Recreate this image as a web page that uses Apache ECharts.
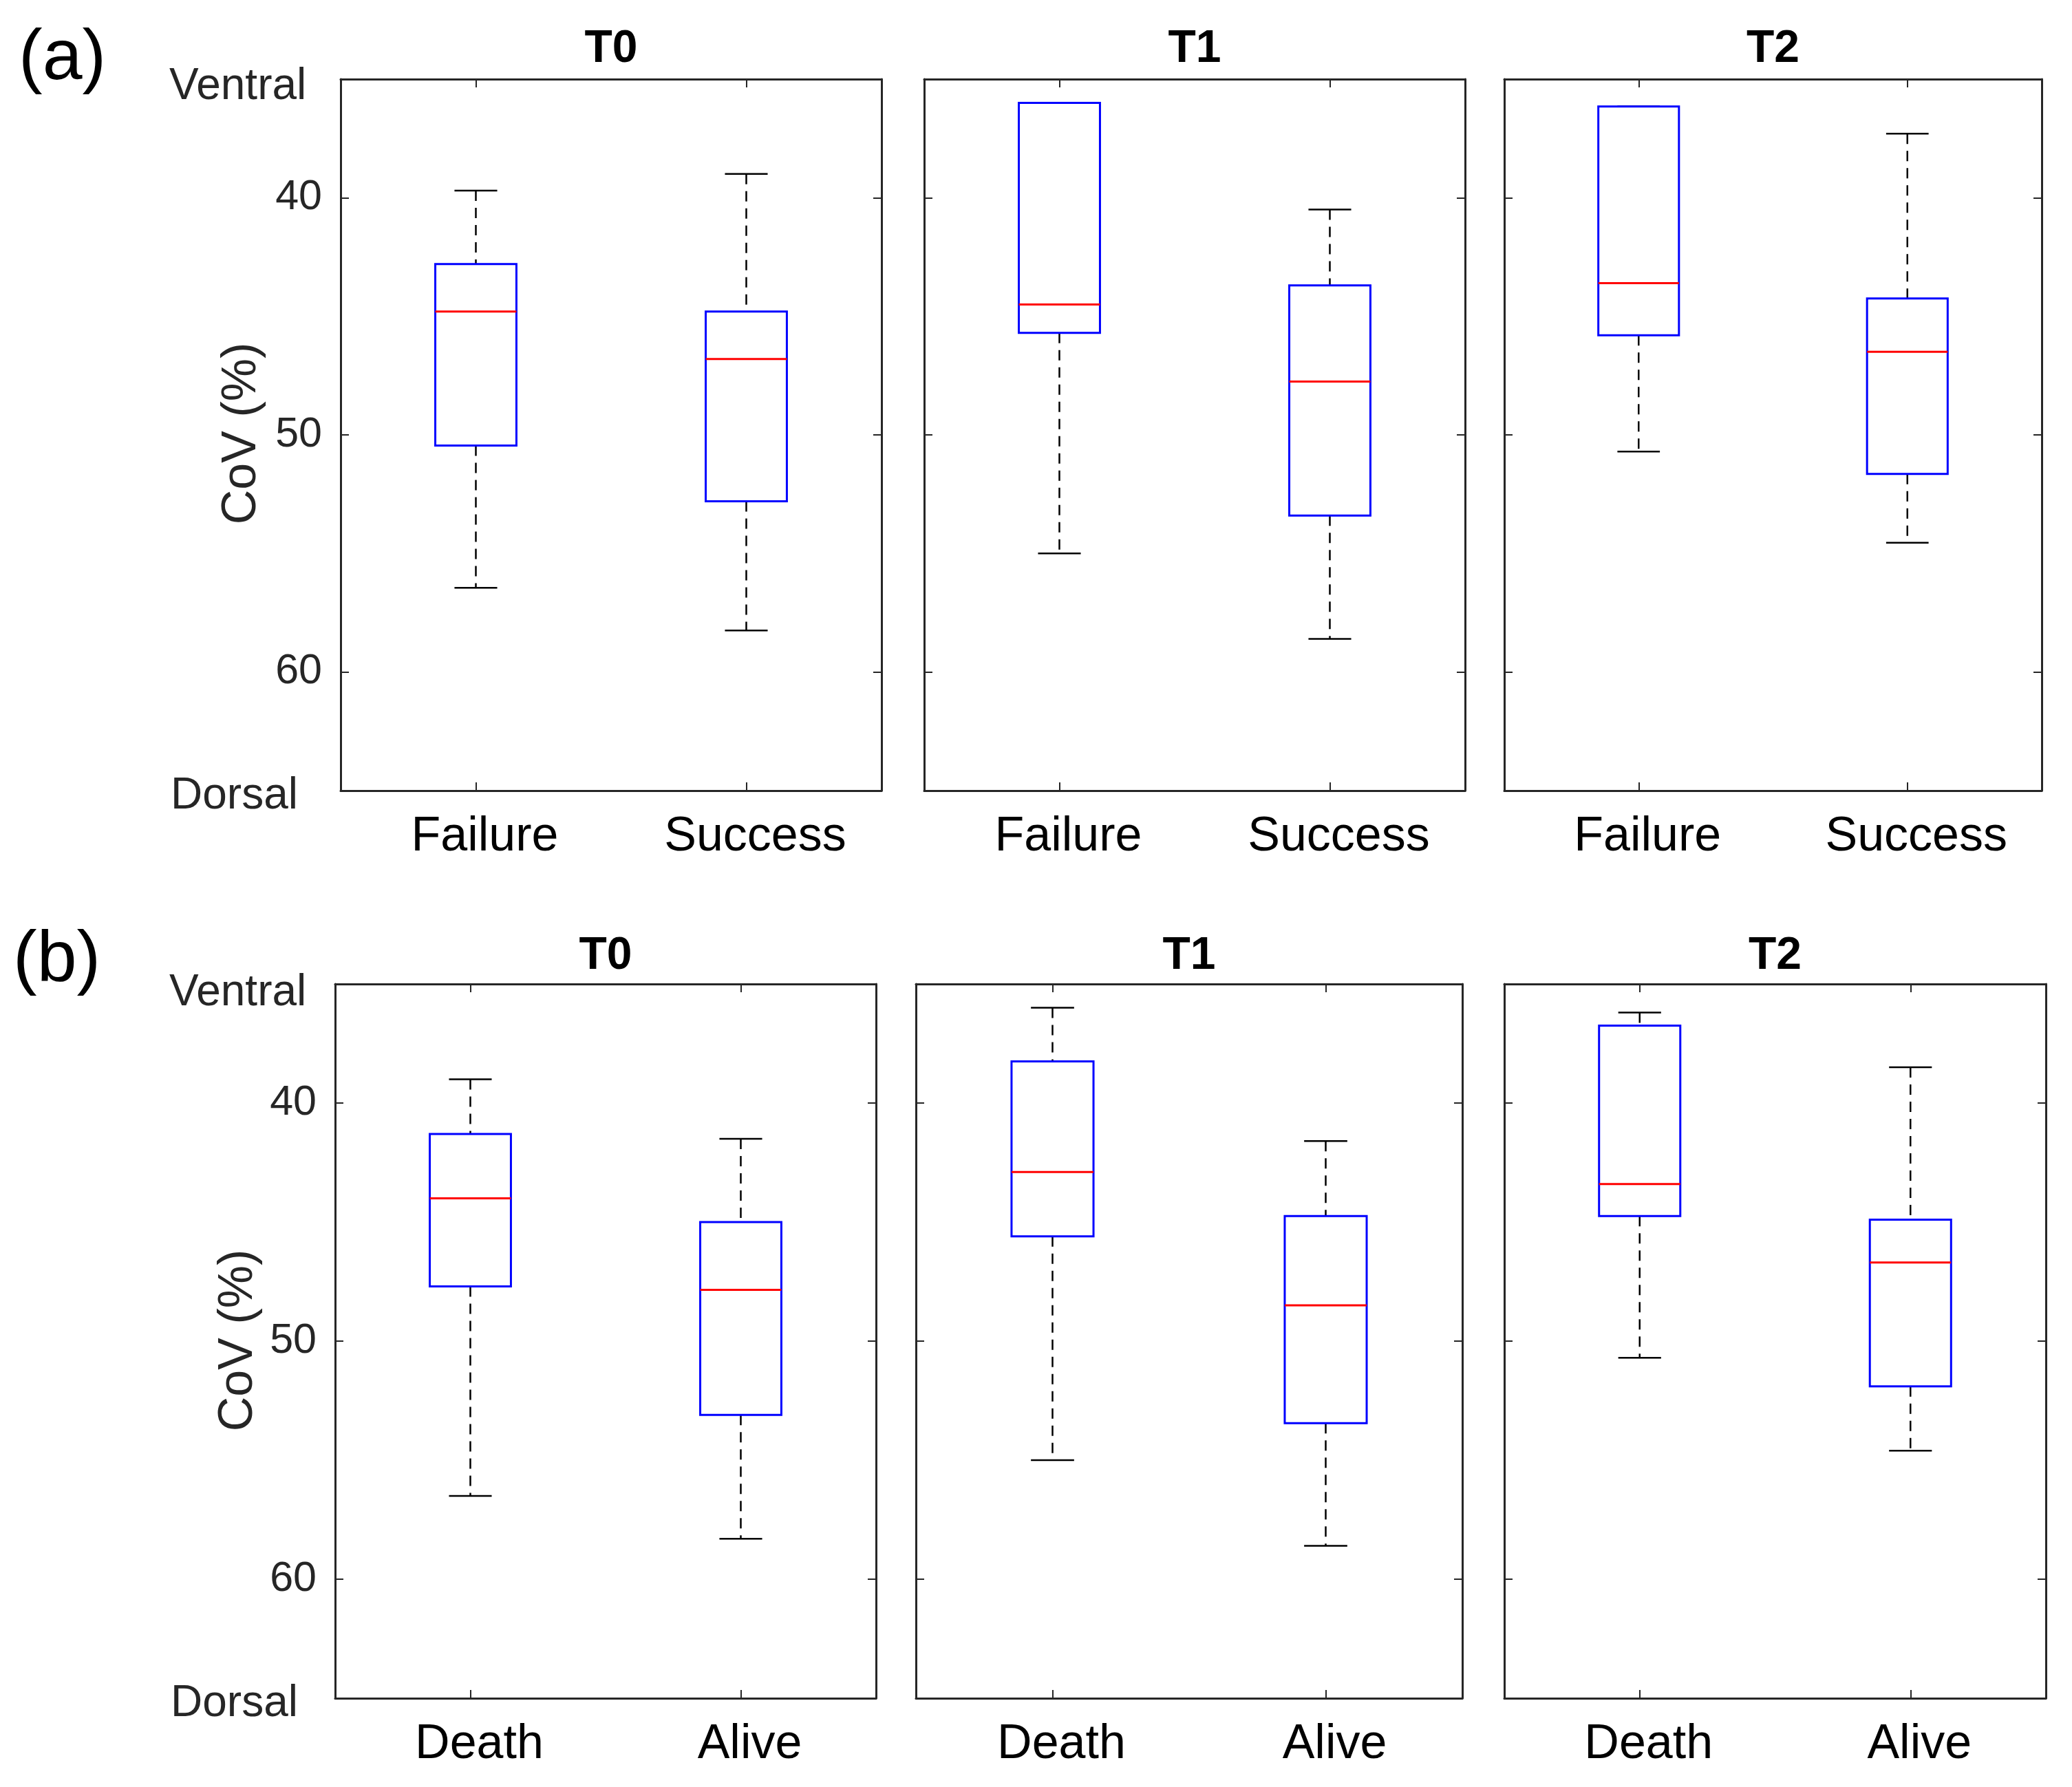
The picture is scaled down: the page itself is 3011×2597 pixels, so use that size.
<!DOCTYPE html>
<html>
<head>
<meta charset="utf-8">
<script src="https://cdn.jsdelivr.net/npm/echarts@6/dist/echarts.min.js"></script>
<style>html,body{margin:0;padding:0;background:#fff;}#c{width:3011px;height:2597px;}</style>
</head>
<body>
<div id="c"></div>
<script>
// ---- data ----
const times = ['T0', 'T1', 'T2'];
const groupsA = ['Failure', 'Success'];
const groupsB = ['Death', 'Alive'];
const yTicks = [40, 50, 60];
const yMin = 35, yMax = 65;
const rowLetters = ['(a)', '(b)'];
const yName = 'CoV (%)';
const topText = 'Ventral';
const bottomText = 'Dorsal';
// each box: [lower whisker, q1, median, q3, upper whisker]
const aT0 = [[39.7, 42.8, 44.8, 50.45, 56.45], [39.0, 44.8, 46.8, 52.8, 58.25]];
const aT1 = [[36.0, 36.0, 44.5, 45.7, 55.0], [40.5, 43.7, 47.75, 53.4, 58.6]];
const aT2 = [[36.15, 36.15, 43.6, 45.8, 50.7], [37.3, 44.25, 46.5, 51.65, 54.55]];
const bT0 = [[39.0, 41.3, 44.0, 47.7, 56.5], [41.5, 45.0, 47.85, 53.1, 58.3]];
const bT1 = [[36.0, 38.25, 42.9, 45.6, 55.0], [41.6, 44.75, 48.5, 53.45, 58.6]];
const bT2 = [[36.2, 36.75, 43.4, 44.75, 50.7], [38.5, 44.9, 46.7, 51.9, 54.6]];

// ---- layout ----
const rows = [
  { top: 115, bottom: 1149, xs: [[495, 1281], [1343, 2129], [2186, 2967]], data: [aT0, aT1, aT2], cats: groupsA,
    titleY: 72, ventralY: 126, dorsalY: 1157, letterY: 86, covY: 630 },
  { top: 1430, bottom: 2468, xs: [[487, 1273], [1331, 2125], [2186, 2973]], data: [bT0, bT1, bT2], cats: groupsB,
    titleY: 1390, ventralY: 1443, dorsalY: 2476, letterY: 1396, covY: 1948 }
];

const FONT = '"Liberation Sans", Arial, Helvetica, sans-serif';
const FRAME = '#262626';

const grids = [], xAxes = [], yAxes = [], series = [], graphics = [];

function renderBox(params, api) {
  const x = api.value(0);
  const lo = api.value(1), q1 = api.value(2), med = api.value(3), q3 = api.value(4), hi = api.value(5);
  const catW = api.size([1, 0])[0];
  const bw = catW * 0.30, cw = catW * 0.158;
  const pLo = api.coord([x, lo]), pQ1 = api.coord([x, q1]), pMed = api.coord([x, med]);
  const pQ3 = api.coord([x, q3]), pHi = api.coord([x, hi]);
  const cx = pMed[0];
  const dash = { stroke: '#000', lineWidth: 2.5, lineDash: [15, 10] };
  const solid = { stroke: '#000', lineWidth: 2.5 };
  const yTop = Math.min(pQ1[1], pQ3[1]), yBot = Math.max(pQ1[1], pQ3[1]);
  return {
    type: 'group',
    children: [
      { type: 'line', shape: { x1: cx, y1: pLo[1], x2: cx, y2: pQ1[1] }, style: dash },
      { type: 'line', shape: { x1: cx, y1: pQ3[1], x2: cx, y2: pHi[1] }, style: dash },
      { type: 'line', shape: { x1: cx - cw / 2, y1: pLo[1], x2: cx + cw / 2, y2: pLo[1] }, style: solid },
      { type: 'line', shape: { x1: cx - cw / 2, y1: pHi[1], x2: cx + cw / 2, y2: pHi[1] }, style: solid },
      { type: 'rect', shape: { x: cx - bw / 2, y: yTop, width: bw, height: yBot - yTop },
        style: { fill: '#fff', stroke: '#0000FF', lineWidth: 3 } },
      { type: 'line', shape: { x1: cx - bw / 2, y1: pMed[1], x2: cx + bw / 2, y2: pMed[1] },
        style: { stroke: '#FF0000', lineWidth: 3 } }
    ]
  };
}

rows.forEach((row, r) => {
  row.xs.forEach((xr, c) => {
    const gi = grids.length;
    grids.push({ left: xr[0], top: row.top, width: xr[1] - xr[0], height: row.bottom - row.top, containLabel: false });
    const axLine = { show: true, onZero: false, lineStyle: { color: FRAME, width: 3 } };
    const tick = { show: true, inside: true, length: 12, lineStyle: { color: FRAME, width: 2 } };
    xAxes.push({
      type: 'category', gridIndex: gi, position: 'bottom', data: row.cats,
      axisLine: axLine, axisTick: Object.assign({ alignWithLabel: true }, tick),
      axisLabel: { show: true, margin: 33, fontSize: 70, fontFamily: FONT, color: '#000', padding: [0, 0, 0, 26] },
      splitLine: { show: false }
    });
    xAxes.push({
      type: 'category', gridIndex: gi, position: 'top', data: row.cats,
      axisLine: axLine, axisTick: Object.assign({ alignWithLabel: true }, tick),
      axisLabel: { show: false }, splitLine: { show: false }
    });
    yAxes.push({
      type: 'value', gridIndex: gi, position: 'left', inverse: true, min: yMin, max: yMax, interval: 5,
      axisLine: axLine, axisTick: Object.assign({ customValues: yTicks }, tick),
      axisLabel: { show: c === 0, customValues: yTicks, margin: 27, fontSize: 61, fontFamily: FONT, color: FRAME,
        formatter: v => (yTicks.indexOf(v) >= 0 ? String(v) : '') },
      splitLine: { show: false }
    });
    yAxes.push({
      type: 'value', gridIndex: gi, position: 'right', inverse: true, min: yMin, max: yMax, interval: 5,
      axisLine: axLine, axisTick: Object.assign({ customValues: yTicks }, tick),
      axisLabel: { show: false }, splitLine: { show: false }
    });
    series.push({
      type: 'custom', xAxisIndex: gi * 2, yAxisIndex: gi * 2, renderItem: renderBox,
      data: row.data[c].map((b, i) => [i].concat(b)), silent: true, clip: false
    });
    graphics.push({
      type: 'text', x: (xr[0] + xr[1]) / 2, y: row.titleY,
      style: { text: times[c], font: 'bold 66px ' + FONT, fill: '#000', textAlign: 'center', textVerticalAlign: 'middle', align: 'center', verticalAlign: 'middle' }
    });
  });
  graphics.push({ type: 'text', x: 246, y: row.ventralY,
    style: { text: topText, font: '64px ' + FONT, fill: FRAME, textAlign: 'left', textVerticalAlign: 'middle', align: 'left', verticalAlign: 'middle' } });
  graphics.push({ type: 'text', x: 248, y: row.dorsalY,
    style: { text: bottomText, font: '64px ' + FONT, fill: FRAME, textAlign: 'left', textVerticalAlign: 'middle', align: 'left', verticalAlign: 'middle' } });
  graphics.push({ type: 'text', x: r === 0 ? 27 : 19, y: row.letterY,
    style: { text: rowLetters[r], font: '104px ' + FONT, fill: '#000', textAlign: 'left', textVerticalAlign: 'middle', align: 'left', verticalAlign: 'middle' } });
  graphics.push({ type: 'text', x: r === 0 ? 352 : 347, y: row.covY, rotation: Math.PI / 2,
    style: { text: yName, font: '70px ' + FONT, fill: FRAME, textAlign: 'center', textVerticalAlign: 'middle', align: 'center', verticalAlign: 'middle' } });
});

const chart = echarts.init(document.getElementById('c'), null, { renderer: 'canvas' });
chart.setOption({
  animation: false,
  backgroundColor: '#fff',
  grid: grids,
  xAxis: xAxes,
  yAxis: yAxes,
  series: series,
  graphic: { elements: graphics }
});
</script>
</body>
</html>
